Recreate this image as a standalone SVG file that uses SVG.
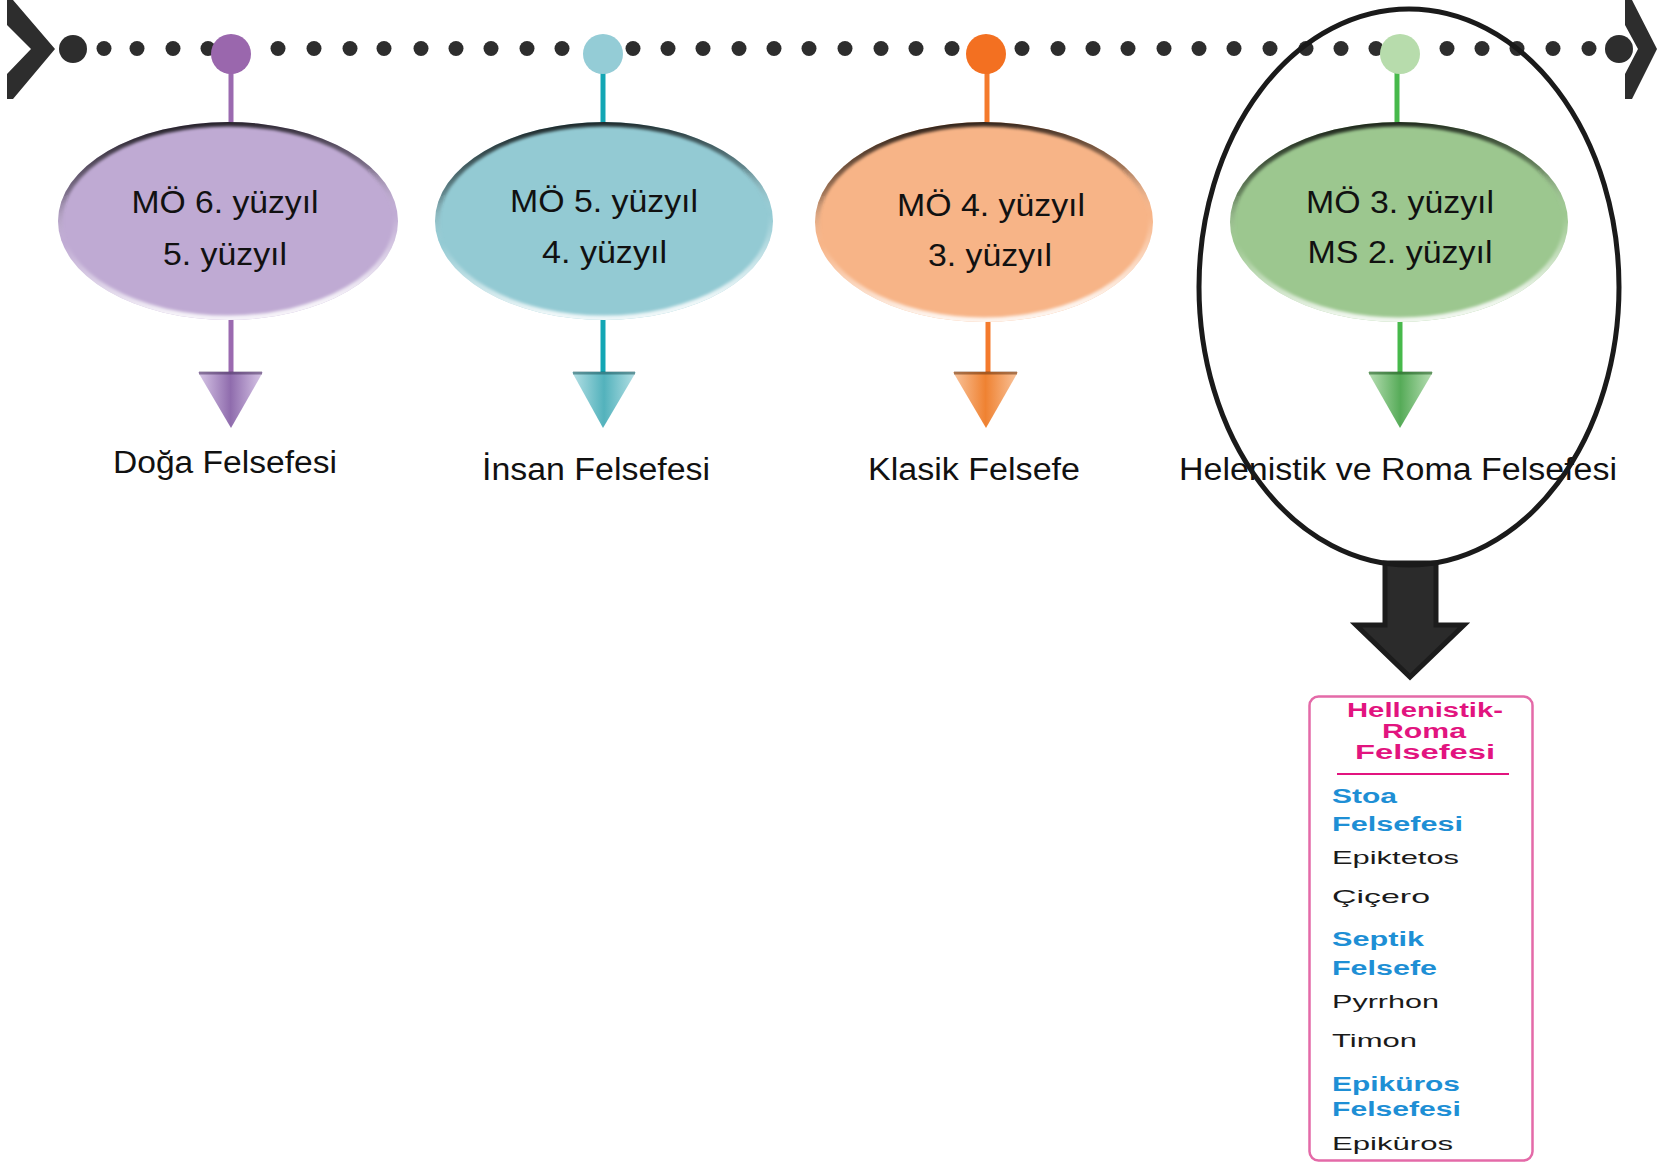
<svg xmlns="http://www.w3.org/2000/svg" width="1661" height="1162" viewBox="0 0 1661 1162">
<defs>
<style>
.dot{fill:#2d2d2d}
.chev{fill:#2d2d2d}
.et{font-family:"Liberation Sans",Arial,sans-serif;font-size:31px;fill:#111;text-anchor:middle}
.lb{font-family:"Liberation Sans",Arial,sans-serif;font-size:31px;fill:#111;text-anchor:middle}
.stem{stroke-width:5;fill:none}
.hd{font-family:"Liberation Sans",Arial,sans-serif;font-size:20px;font-weight:bold;fill:#e2147f;text-anchor:middle}
.sub{font-family:"Liberation Sans",Arial,sans-serif;font-size:20px;font-weight:bold;fill:#1e8fd5}
.nm{font-family:"Liberation Sans",Arial,sans-serif;font-size:19px;fill:#1a1a1a}
.edge{fill:none;stroke:url(#edgeG);stroke-width:9}
.tritop{stroke-width:3;stroke-opacity:.55}
</style>
<linearGradient id="edgeG" x1="0" y1="0" x2="0.15" y2="1">
<stop offset="0" stop-color="#000" stop-opacity="0.9"/>
<stop offset="0.35" stop-color="#000" stop-opacity="0.35"/>
<stop offset="0.6" stop-color="#fff" stop-opacity="0"/>
<stop offset="1" stop-color="#fff" stop-opacity="0.85"/>
</linearGradient>
<filter id="soft" x="-5%" y="-5%" width="110%" height="110%"><feGaussianBlur stdDeviation="1.6"/></filter>
<linearGradient id="triP" x1="0" y1="0" x2="1" y2="0"><stop offset="0" stop-color="#d9c8e8"/><stop offset="0.5" stop-color="#8f6cad"/><stop offset="1" stop-color="#d9c8e8"/></linearGradient>
<linearGradient id="triB" x1="0" y1="0" x2="1" y2="0"><stop offset="0" stop-color="#b5e0e5"/><stop offset="0.5" stop-color="#53b2bc"/><stop offset="1" stop-color="#b5e0e5"/></linearGradient>
<linearGradient id="triO" x1="0" y1="0" x2="1" y2="0"><stop offset="0" stop-color="#f9c49c"/><stop offset="0.5" stop-color="#ef8232"/><stop offset="1" stop-color="#f9c49c"/></linearGradient>
<linearGradient id="triG" x1="0" y1="0" x2="1" y2="0"><stop offset="0" stop-color="#b9dfb5"/><stop offset="0.5" stop-color="#56ab58"/><stop offset="1" stop-color="#b9dfb5"/></linearGradient>
<clipPath id="c1"><ellipse cx="228" cy="221" rx="170" ry="99"/></clipPath>
<clipPath id="c2"><ellipse cx="604" cy="221" rx="169" ry="99"/></clipPath>
<clipPath id="c3"><ellipse cx="984" cy="222" rx="169" ry="100"/></clipPath>
<clipPath id="c4"><ellipse cx="1399" cy="222" rx="169" ry="100"/></clipPath>
</defs>
<rect width="1661" height="1162" fill="#fff"/>

<g id="timeline">
<polygon class="chev" points="7,0 13,0 55,49 13,99 7,99 7,74 31,49 7,25"/>
<polygon class="chev" points="1625,0 1632,0 1657,49 1632,99 1625,99 1625,74 1638,49 1625,25"/>
<circle class="dot" cx="73" cy="49" r="14"/>
<circle class="dot" cx="1619" cy="49" r="14"/>
<g>
<circle class="dot" cx="104" cy="48.5" r="7.5"/><circle class="dot" cx="137" cy="48.5" r="7.5"/><circle class="dot" cx="173" cy="48.5" r="7.5"/><circle class="dot" cx="208" cy="48.5" r="7.5"/>
<circle class="dot" cx="278" cy="48.5" r="7.5"/><circle class="dot" cx="314" cy="48.5" r="7.5"/><circle class="dot" cx="350" cy="48.5" r="7.5"/><circle class="dot" cx="384" cy="48.5" r="7.5"/>
<circle class="dot" cx="421" cy="48.5" r="7.5"/><circle class="dot" cx="456" cy="48.5" r="7.5"/><circle class="dot" cx="491" cy="48.5" r="7.5"/><circle class="dot" cx="527" cy="48.5" r="7.5"/><circle class="dot" cx="562" cy="48.5" r="7.5"/>
<circle class="dot" cx="633" cy="48.5" r="7.5"/><circle class="dot" cx="668" cy="48.5" r="7.5"/><circle class="dot" cx="703" cy="48.5" r="7.5"/><circle class="dot" cx="739" cy="48.5" r="7.5"/><circle class="dot" cx="774" cy="48.5" r="7.5"/>
<circle class="dot" cx="809" cy="48.5" r="7.5"/><circle class="dot" cx="845" cy="48.5" r="7.5"/><circle class="dot" cx="881" cy="48.5" r="7.5"/><circle class="dot" cx="916" cy="48.5" r="7.5"/><circle class="dot" cx="952" cy="48.5" r="7.5"/>
<circle class="dot" cx="1022" cy="48.5" r="7.5"/><circle class="dot" cx="1058" cy="48.5" r="7.5"/><circle class="dot" cx="1093" cy="48.5" r="7.5"/><circle class="dot" cx="1128" cy="48.5" r="7.5"/><circle class="dot" cx="1164" cy="48.5" r="7.5"/>
<circle class="dot" cx="1199" cy="48.5" r="7.5"/><circle class="dot" cx="1234" cy="48.5" r="7.5"/><circle class="dot" cx="1270" cy="48.5" r="7.5"/><circle class="dot" cx="1306" cy="48.5" r="7.5"/><circle class="dot" cx="1341" cy="48.5" r="7.5"/><circle class="dot" cx="1376" cy="48.5" r="7.5"/>
<circle class="dot" cx="1447" cy="48.5" r="7.5"/><circle class="dot" cx="1482" cy="48.5" r="7.5"/><circle class="dot" cx="1517" cy="48.5" r="7.5"/><circle class="dot" cx="1553" cy="48.5" r="7.5"/><circle class="dot" cx="1589" cy="48.5" r="7.5"/>
</g>
</g>

<g id="connectors">
<line class="stem" x1="231" y1="70" x2="231" y2="123" stroke="#9b6ab0"/>
<line class="stem" x1="231" y1="318" x2="231" y2="373" stroke="#9b6ab0"/>
<line class="stem" x1="603" y1="70" x2="603" y2="123" stroke="#13a6b4"/>
<line class="stem" x1="603" y1="318" x2="603" y2="373" stroke="#13a6b4"/>
<line class="stem" x1="987" y1="70" x2="987" y2="123" stroke="#f47a2c"/>
<line class="stem" x1="988" y1="318" x2="988" y2="373" stroke="#f47a2c"/>
<line class="stem" x1="1397" y1="70" x2="1397" y2="123" stroke="#47b94b"/>
<line class="stem" x1="1400" y1="318" x2="1400" y2="373" stroke="#47b94b"/>
<polygon points="1385,563 1436,563 1436,625 1464,625 1410,677 1356,625 1385,625" fill="#2b2b2b" stroke="#1c1c1c" stroke-width="5" stroke-linejoin="miter"/>
</g>

<g id="node-doga">
<circle cx="231" cy="54" r="20" fill="#9a67ad"/>
<ellipse cx="228" cy="221" rx="170" ry="99" fill="#bfaad3"/>
<ellipse class="edge" cx="228" cy="221" rx="170" ry="99" clip-path="url(#c1)" filter="url(#soft)"/>
<text class="et" x="225" y="213" textLength="187" lengthAdjust="spacingAndGlyphs">MÖ 6. yüzyıl</text>
<text class="et" x="225" y="265" textLength="124" lengthAdjust="spacingAndGlyphs">5. yüzyıl</text>
<polygon points="198,372 263,372 231,428" fill="url(#triP)"/>
<line class="tritop" x1="199" y1="373" x2="262" y2="373" stroke="#4a3360"/>
<text class="lb" x="225" y="473" textLength="224" lengthAdjust="spacingAndGlyphs">Doğa Felsefesi</text>
</g>

<g id="node-insan">
<circle cx="603" cy="54" r="20" fill="#94ccd6"/>
<ellipse cx="604" cy="221" rx="169" ry="99" fill="#93cad3"/>
<ellipse class="edge" cx="604" cy="221" rx="169" ry="99" clip-path="url(#c2)" filter="url(#soft)"/>
<text class="et" x="604" y="212" textLength="188" lengthAdjust="spacingAndGlyphs">MÖ 5. yüzyıl</text>
<text class="et" x="604.5" y="263" textLength="125" lengthAdjust="spacingAndGlyphs">4. yüzyıl</text>
<polygon points="572,372 636,372 603,428" fill="url(#triB)"/>
<line class="tritop" x1="573" y1="373" x2="635" y2="373" stroke="#1f5a60"/>
<text class="lb" x="596" y="480" textLength="228" lengthAdjust="spacingAndGlyphs">İnsan Felsefesi</text>
</g>

<g id="node-klasik">
<circle cx="986" cy="54" r="20" fill="#f37021"/>
<ellipse cx="984" cy="222" rx="169" ry="100" fill="#f7b487"/>
<ellipse class="edge" cx="984" cy="222" rx="169" ry="100" clip-path="url(#c3)" filter="url(#soft)"/>
<text class="et" x="991" y="216" textLength="188" lengthAdjust="spacingAndGlyphs">MÖ 4. yüzyıl</text>
<text class="et" x="990" y="266" textLength="124" lengthAdjust="spacingAndGlyphs">3. yüzyıl</text>
<polygon points="953,372 1018,372 986,428" fill="url(#triO)"/>
<line class="tritop" x1="954" y1="373" x2="1017" y2="373" stroke="#6a3510"/>
<text class="lb" x="974" y="480" textLength="212" lengthAdjust="spacingAndGlyphs">Klasik Felsefe</text>
</g>

<g id="node-helenistik">
<circle cx="1400" cy="54" r="20" fill="#b7dcac"/>
<ellipse cx="1399" cy="222" rx="169" ry="100" fill="#9cc78f"/>
<ellipse class="edge" cx="1399" cy="222" rx="169" ry="100" clip-path="url(#c4)" filter="url(#soft)"/>
<text class="et" x="1400" y="213" textLength="188" lengthAdjust="spacingAndGlyphs">MÖ 3. yüzyıl</text>
<text class="et" x="1400" y="263" textLength="185" lengthAdjust="spacingAndGlyphs">MS 2. yüzyıl</text>
<polygon points="1368,372 1433,372 1400,428" fill="url(#triG)"/>
<line class="tritop" x1="1369" y1="373" x2="1432" y2="373" stroke="#1f5a20"/>
<text class="lb" x="1398" y="480" textLength="438" lengthAdjust="spacingAndGlyphs">Helenistik ve Roma Felsefesi</text>
</g>

<g id="highlight-oval">
<ellipse cx="1409" cy="287" rx="210" ry="278" fill="none" stroke="#1a1a1a" stroke-width="5"/>
</g>

<g id="node-box">
<rect x="1309.5" y="696.5" width="223" height="464" rx="9" fill="#fff" stroke="#e46aa8" stroke-width="2.5"/>
<text class="hd" x="1425" y="717" textLength="156" lengthAdjust="spacingAndGlyphs">Hellenistik-</text>
<text class="hd" x="1424" y="738" textLength="84" lengthAdjust="spacingAndGlyphs">Roma</text>
<text class="hd" x="1425" y="759" textLength="140" lengthAdjust="spacingAndGlyphs">Felsefesi</text>
<line x1="1337" y1="774" x2="1509" y2="774" stroke="#e2147f" stroke-width="2"/>
<text class="sub" x="1332" y="803" textLength="65" lengthAdjust="spacingAndGlyphs">Stoa</text>
<text class="sub" x="1332" y="831" textLength="131" lengthAdjust="spacingAndGlyphs">Felsefesi</text>
<text class="nm" x="1332" y="864" textLength="127" lengthAdjust="spacingAndGlyphs">Epiktetos</text>
<text class="nm" x="1332" y="903" textLength="98" lengthAdjust="spacingAndGlyphs">Çiçero</text>
<text class="sub" x="1332" y="946" textLength="92" lengthAdjust="spacingAndGlyphs">Septik</text>
<text class="sub" x="1332" y="975" textLength="105" lengthAdjust="spacingAndGlyphs">Felsefe</text>
<text class="nm" x="1332" y="1008" textLength="107" lengthAdjust="spacingAndGlyphs">Pyrrhon</text>
<text class="nm" x="1332" y="1047" textLength="85" lengthAdjust="spacingAndGlyphs">Timon</text>
<text class="sub" x="1332" y="1091" textLength="128" lengthAdjust="spacingAndGlyphs">Epiküros</text>
<text class="sub" x="1332" y="1116" textLength="129" lengthAdjust="spacingAndGlyphs">Felsefesi</text>
<text class="nm" x="1332" y="1150" textLength="121" lengthAdjust="spacingAndGlyphs">Epiküros</text>
</g>
</svg>
